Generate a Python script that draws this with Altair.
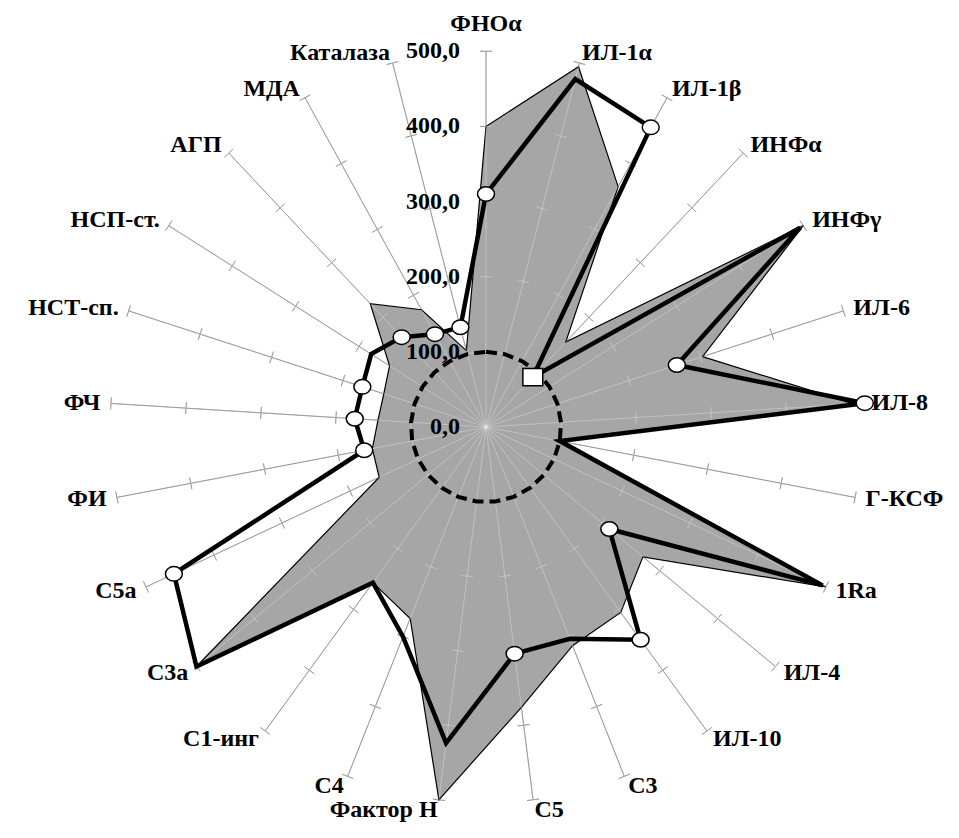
import math
import altair as alt
import pandas as pd

# ---------------- data ----------------
categories = ["ФНОα", "ИЛ-1α", "ИЛ-1β", "ИНФα", "ИНФγ", "ИЛ-6", "ИЛ-8", "Г-КСФ",
              "1Ra", "ИЛ-4", "ИЛ-10", "С3", "С5", "Фактор Н", "С4", "С1-инг",
              "С3а", "С5а", "ФИ", "ФЧ", "НСТ-сп.", "НСП-ст.", "АГП", "МДА", "Каталаза"]
series_gray = [400, 495, 365, 155, 500, 303, 490, 95, 500, 271, 305, 313, 376,
               500, 274, 256, 500, 157, 154, 144, 143, 152, 225, 178, 105]
series_black = [310, 478, 455, 91, 495, 267, 505, 100, 495, 213, 350, 303, 304,
                424, 300, 256, 500, 459, 165, 175, 173, 181, 164, 141, 137]
series_norm = [100, 100, 100, 100, 100, 100, 100, 100, 100, 100, 100, 100, 100,
               100, 100, 100, 100, 100, 100, 100, 100, 100, 100, 100, 100]
black_markers = ["circle", "none", "circle", "square", "none", "circle", "circle", "none",
                 "none", "circle", "circle", "none", "circle", "none", "none", "none",
                 "none", "circle", "circle", "circle", "circle", "none", "circle", "circle", "circle"]
tick_values = [0, 100, 200, 300, 400, 500]
tick_labels = ["0,0", "100,0", "200,0", "300,0", "400,0", "500,0"]

# ---------------- geometry ----------------
N = len(categories)
RMAX = 500
K = 0.7515          # px per unit
W, H = 943, 818
CX, CY = 478, 419
LABEL_R = 514
TICK_HALF = 8

xscale = alt.Scale(domain=[-CX / K, (W - CX) / K], nice=False, zero=False)
yscale = alt.Scale(domain=[-(H - CY) / K, CY / K], nice=False, zero=False)

rows = []
for i, c in enumerate(categories):
    th = 2 * math.pi * i / N
    s, co = math.sin(th), math.cos(th)
    rows.append(dict(
        idx=i, cat=c, marker=black_markers[i],
        gx=series_gray[i] * s, gy=series_gray[i] * co,
        bx=series_black[i] * s, by=series_black[i] * co,
        nx=series_norm[i] * s, ny=series_norm[i] * co,
        lx=LABEL_R * s, ly=LABEL_R * co,
        side=("left" if s > 0.05 else ("right" if s < -0.05 else "center")),
    ))
df = pd.DataFrame(rows)

grid = []
for i in range(N):
    th = 2 * math.pi * i / N
    s, co = math.sin(th), math.cos(th)
    grid.append(dict(x=0, y=0, x2=RMAX * s, y2=RMAX * co))
    for t in tick_values[1:]:
        grid.append(dict(x=t * s + TICK_HALF * co, y=t * co - TICK_HALF * s,
                         x2=t * s - TICK_HALF * co, y2=t * co + TICK_HALF * s))
gdf = pd.DataFrame(grid)

tdf = pd.DataFrame({"tx": [0] * len(tick_values), "ty": tick_values, "lab": tick_labels})


def X(f):
    return alt.X(f + ":Q", scale=xscale, axis=None)


def Y(f):
    return alt.Y(f + ":Q", scale=yscale, axis=None)


grid_under = alt.Chart(gdf).mark_rule(color="#707070", strokeWidth=1).encode(
    x=X("x"), y=Y("y"), x2="x2:Q", y2="y2:Q")
grid_over = alt.Chart(gdf).mark_rule(color="white", opacity=0.3, strokeWidth=1).encode(
    x=X("x"), y=Y("y"), x2="x2:Q", y2="y2:Q")

gray_poly = alt.Chart(df).mark_line(
    fill="#a6a6a6", stroke="black", strokeWidth=1.2, interpolate="linear-closed"
).encode(x=X("gx"), y=Y("gy"), order="idx:Q")

norm_poly = alt.Chart(df).mark_line(
    stroke="black", strokeWidth=4, strokeDash=[11, 6], interpolate="linear-closed"
).encode(x=X("nx"), y=Y("ny"), order="idx:Q")

black_poly = alt.Chart(df).mark_line(
    stroke="black", strokeWidth=4.5, interpolate="linear-closed"
).encode(x=X("bx"), y=Y("by"), order="idx:Q")

ellipse = "M -1.17 0 A 1.17 1 0 1 1 1.17 0 A 1.17 1 0 1 1 -1.17 0 Z"
rect = "M -1.15 -1 L 1.15 -1 L 1.15 1 L -1.15 1 Z"

circles = alt.Chart(df).transform_filter("datum.marker == 'circle'").mark_point(
    shape=ellipse, filled=True, fill="white", stroke="black", strokeWidth=1.5,
    size=210, opacity=1
).encode(x=X("bx"), y=Y("by"))

squares = alt.Chart(df).transform_filter("datum.marker == 'square'").mark_point(
    shape=rect, filled=True, fill="white", stroke="black", strokeWidth=1.5,
    size=300, opacity=1
).encode(x=X("bx"), y=Y("by"))

FONT = "Liberation Serif"
FS = 24


def label_layer(side, **kw):
    return alt.Chart(df).transform_filter(f"datum.side == '{side}'").mark_text(
        font=FONT, fontSize=FS, fontWeight="bold", color="black", align=side, **kw
    ).encode(x=X("lx"), y=Y("ly"), text="cat:N")


labels = [label_layer("left", baseline="middle", dy=0),
          label_layer("right", baseline="middle", dy=0),
          label_layer("center", baseline="bottom", dy=-5)]

tick_text = alt.Chart(tdf).mark_text(
    font=FONT, fontSize=FS, fontWeight="bold", color="black",
    align="right", baseline="middle", dx=-26
).encode(x=X("tx"), y=Y("ty"), text="lab:N")

chart = alt.layer(
    grid_under, gray_poly, grid_over, norm_poly, black_poly, circles, squares,
    tick_text, *labels
).properties(
    width=W, height=H, padding=0, autosize=alt.AutoSizeParams(type="none")
).configure_view(stroke=None)

chart.save("out.html", embed_options={"renderer": "svg", "actions": False})
